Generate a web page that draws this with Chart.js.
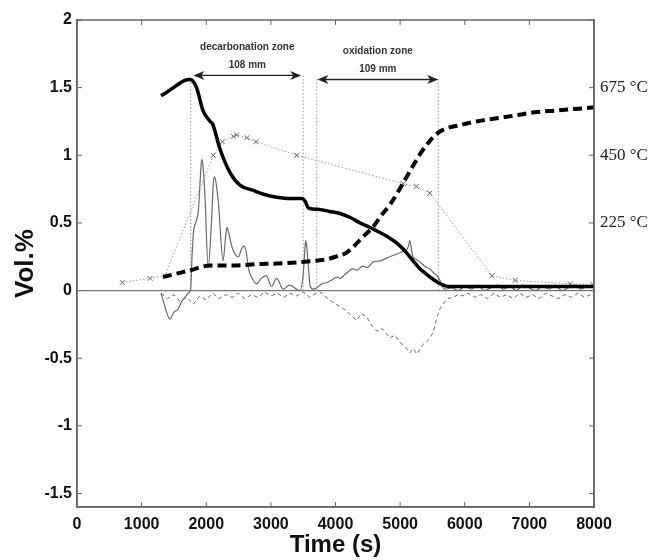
<!DOCTYPE html>
<html>
<head>
<meta charset="utf-8">
<script src="https://cdn.jsdelivr.net/npm/chart.js@4"></script>
<style>
    html, body { margin: 0; padding: 0; background: #fff; }
</style>
</head>
<body>
<canvas id="myChart" width="657" height="560"></canvas>
<script>
// axis ticks
const xTicks = [0, 1000, 2000, 3000, 4000, 5000, 6000, 7000, 8000];
const yTicks = [-1.5, -1, -0.5, 0, 0.5, 1, 1.5, 2];
const tempTicks = [0.5, 1, 1.5];
const tempLabels = ['225 °C', '450 °C', '675 °C'];

// thick solid curve
const timeA = [1300, 1400, 1550, 1650, 1750, 1850, 1950, 2060, 2100, 2210, 2370, 2520, 2730, 2900, 3090, 3300, 3480, 3530, 3580,
    3750, 3910, 4070, 4230, 4380, 4520, 4640, 4800, 4950, 5080, 5200, 5310, 5410, 5520, 5620, 5700, 5770, 6000, 6500, 7000, 7500, 8000];
const volA = [1.44, 1.47, 1.52, 1.55, 1.56, 1.50, 1.33, 1.25, 1.23, 1.05, 0.87, 0.78, 0.74, 0.71, 0.69, 0.68, 0.68, 0.66, 0.61,
    0.60, 0.585, 0.57, 0.54, 0.50, 0.47, 0.44, 0.40, 0.35, 0.29, 0.22, 0.16, 0.12, 0.08, 0.05, 0.035, 0.03, 0.03, 0.03, 0.03, 0.03, 0.03];

// thick dashed curve
const timeB = [1330, 1500, 1750, 2060, 2420, 2800, 3100, 3450, 3700, 3860, 4000, 4170, 4270, 4430, 4580, 4700, 4850, 4980, 5100,
    5210, 5310, 5450, 5570, 5720, 5900, 6080, 6300, 6590, 6850, 7120, 7400, 7630, 7800, 8000];
const volB = [0.10, 0.12, 0.15, 0.185, 0.185, 0.195, 0.20, 0.21, 0.22, 0.23, 0.25, 0.28, 0.32, 0.40, 0.47, 0.55, 0.64, 0.74, 0.84,
    0.93, 1.01, 1.10, 1.16, 1.20, 1.22, 1.24, 1.26, 1.28, 1.30, 1.32, 1.33, 1.34, 1.345, 1.355];

// dotted curve with x markers
const timeC = [700, 1130, 1360, 2110, 2250, 2420, 2470, 2630, 2770, 3400, 5050, 5250, 5460, 6420, 6780, 7630, 7980];
const volC = [0.06, 0.09, 0.11, 1.00, 1.10, 1.14, 1.15, 1.13, 1.10, 1.00, 0.79, 0.77, 0.72, 0.11, 0.075, 0.05, 0.045];

// thin solid grey curve
const timeD = [1300, 1350, 1400, 1440, 1500, 1560, 1620, 1670, 1720, 1760, 1780, 1800, 1850, 1880, 1910, 1930, 1950, 1980, 2030,
    2080, 2110, 2130, 2150, 2190, 2260, 2300, 2320, 2340, 2400, 2460, 2500, 2540, 2580, 2620, 2650, 2700, 2780, 2850, 2930, 3010,
    3090, 3190, 3290, 3400, 3450, 3500, 3530, 3540, 3560, 3580, 3610, 3660, 3710, 3790, 3870, 3950, 4020, 4070, 4150, 4270, 4330,
    4420, 4490, 4580, 4700, 4840, 4950, 5050, 5100, 5130, 5150, 5180, 5200, 5250, 5310, 5380, 5460, 5520, 5570, 5620, 5650, 5700,
    5800, 5900, 6000, 6100, 6200, 6300, 6400, 6500, 6600, 6700, 6800, 6900, 7000, 7100, 7200, 7300, 7400, 7500, 7600, 7700, 7800,
    7900, 8000];
const volD = [-0.02, -0.10, -0.18, -0.21, -0.16, -0.14, -0.08, -0.05, -0.02, 0.02, 0.25, 0.42, 0.52, 0.60, 0.85, 0.97, 0.92, 0.70,
    0.17, 0.50, 0.80, 0.84, 0.80, 0.64, 0.22, 0.40, 0.47, 0.44, 0.32, 0.26, 0.25, 0.30, 0.33, 0.28, 0.17, 0.10, 0.05, 0.09, 0.11,
    0.03, 0.09, 0.01, 0.04, 0.01, 0.00, 0.12, 0.33, 0.37, 0.30, 0.18, 0.03, 0.01, 0.02, 0.05, 0.06, 0.08, 0.10, 0.09, 0.12, 0.16,
    0.15, 0.18, 0.17, 0.21, 0.22, 0.25, 0.27, 0.29, 0.30, 0.33, 0.37, 0.29, 0.25, 0.23, 0.21, 0.18, 0.16, 0.13, 0.11, 0.07, 0.03,
    0.01, 0.02, 0.00, 0.03, 0.01, 0.04, 0.00, 0.02, 0.04, 0.01, 0.03, 0.00, 0.04, 0.02, 0.00, 0.03, 0.01, 0.04, 0.00, 0.02, 0.04,
    0.01, 0.03, 0.02];

// thin dashed grey curve
const timeE = [1300, 1400, 1500, 1600, 1700, 1800, 1900, 2000, 2100, 2200, 2300, 2400, 2500, 2600, 2700, 2800, 2900, 3000, 3100,
    3200, 3300, 3400, 3500, 3600, 3700, 3760, 3830, 3910, 4000, 4080, 4170, 4250, 4330, 4400, 4490, 4560, 4640, 4720, 4840, 4920,
    4990, 5070, 5150, 5200, 5260, 5350, 5430, 5510, 5570, 5620, 5660, 5740, 5820, 5900, 5970, 6050, 6150, 6250, 6350, 6450, 6550,
    6650, 6750, 6850, 6950, 7050, 7150, 7250, 7350, 7450, 7550, 7650, 7750, 7850, 7950, 8000];
const volE = [-0.02, -0.06, -0.03, -0.08, -0.05, -0.10, -0.04, -0.07, -0.02, -0.06, -0.03, -0.05, -0.02, -0.06, -0.03, -0.05, -0.01,
    -0.04, -0.02, -0.05, -0.02, -0.04, -0.01, -0.05, -0.02, -0.01, -0.04, -0.07, -0.10, -0.12, -0.15, -0.19, -0.22, -0.17, -0.20,
    -0.26, -0.30, -0.28, -0.35, -0.33, -0.38, -0.41, -0.46, -0.43, -0.47, -0.40, -0.37, -0.31, -0.20, -0.13, -0.10, -0.06, -0.05,
    -0.03, -0.04, -0.02, -0.05, -0.03, -0.06, -0.02, -0.05, -0.03, -0.06, -0.02, -0.05, -0.03, -0.06, -0.02, -0.04, -0.06, -0.03,
    -0.05, -0.02, -0.05, -0.03, -0.04];

// zone markers
const zoneLineX = [1760, 3500, 3710, 5590];
const zoneLineTop = [1.55, 1.60, 1.57, 1.56];
const zoneNames = ['decarbonation zone', 'oxidation zone'];
const zoneLengths = ['108 mm', '109 mm'];
const zoneStart = [1800, 3720];
const zoneEnd = [3470, 5590];
const zoneArrowY = [1.59, 1.56];


function pts(xs, ys) {
    return xs.map((x, i) => ({ x: x, y: ys[i] }));
}

const zoneDatasets = zoneLineX.map((x, i) => ({
    data: [{ x: x, y: 0 }, { x: x, y: zoneLineTop[i] }],
    borderColor: '#9a9a9a',
    borderWidth: 1,
    borderDash: [1.5, 2],
    pointRadius: 0
}));

function arrowHead(ctx, x, y, dir) {
    ctx.beginPath();
    ctx.moveTo(x, y);
    ctx.lineTo(x - dir * 11, y - 4.5);
    ctx.lineTo(x - dir * 8, y);
    ctx.lineTo(x - dir * 11, y + 4.5);
    ctx.closePath();
    ctx.fill();
}

const frameAndTicks = {
    id: 'frameAndTicks',
    afterDatasetsDraw(chart) {
        const { ctx, chartArea: a, scales: { x, y } } = chart;
        ctx.save();
        ctx.strokeStyle = '#666';
        ctx.lineWidth = 1.5;
        ctx.strokeRect(a.left, a.top, a.right - a.left, a.bottom - a.top);

        // inward tick marks
        ctx.lineWidth = 1;
        ctx.beginPath();
        xTicks.forEach(v => {
            const px = x.getPixelForValue(v);
            ctx.moveTo(px, a.bottom); ctx.lineTo(px, a.bottom - 5);
            ctx.moveTo(px, a.top); ctx.lineTo(px, a.top + 5);
        });
        yTicks.forEach(v => {
            const py = y.getPixelForValue(v);
            ctx.moveTo(a.left, py); ctx.lineTo(a.left + 5, py);
            ctx.moveTo(a.right, py); ctx.lineTo(a.right - 5, py);
        });
        ctx.stroke();

        // zone arrows and labels
        ctx.strokeStyle = '#222';
        ctx.fillStyle = '#222';
        ctx.lineWidth = 1.3;
        zoneNames.forEach((name, i) => {
            const x1 = x.getPixelForValue(zoneStart[i]);
            const x2 = x.getPixelForValue(zoneEnd[i]);
            const py = y.getPixelForValue(zoneArrowY[i]);
            ctx.beginPath();
            ctx.moveTo(x1 + 4, py);
            ctx.lineTo(x2 - 4, py);
            ctx.stroke();
            arrowHead(ctx, x1, py, -1);
            arrowHead(ctx, x2, py, 1);
            ctx.font = 'bold 10px Arial, "Liberation Sans"';
            ctx.textAlign = 'center';
            ctx.textBaseline = 'middle';
            ctx.fillStyle = '#333';
            ctx.fillText(name, (x1 + x2) / 2, py - 28);
            ctx.fillText(zoneLengths[i], (x1 + x2) / 2, py - 10);
            ctx.fillStyle = '#222';
        });
        ctx.restore();
    }
};

const tickFont = { family: 'Arial, "Liberation Sans"', size: 16, weight: 'bold' };

const myChart = new Chart(document.getElementById('myChart').getContext('2d'), {
    type: 'line',
    data: {
        datasets: [
            {
                data: pts(timeA, volA),
                borderColor: '#000',
                borderWidth: 3.5,
                pointRadius: 0,
                cubicInterpolationMode: 'monotone'
            },
            {
                data: pts(timeB, volB),
                borderColor: '#000',
                borderWidth: 4,
                borderDash: [9, 5],
                pointRadius: 0,
                cubicInterpolationMode: 'monotone'
            },
            {
                data: pts(timeC, volC),
                borderColor: '#999',
                borderWidth: 1,
                borderDash: [1.5, 2],
                pointStyle: 'crossRot',
                pointRadius: 3.5,
                pointBorderColor: '#666',
                pointBorderWidth: 1
            },
            {
                data: pts(timeD, volD),
                borderColor: '#6a6a6a',
                borderWidth: 1.2,
                pointRadius: 0,
                cubicInterpolationMode: 'monotone'
            },
            {
                data: pts(timeE, volE),
                borderColor: '#6a6a6a',
                borderWidth: 1,
                borderDash: [4, 3],
                pointRadius: 0
            },
            ...zoneDatasets
        ]
    },
    options: {
        responsive: false,
        animation: false,
        layout: { padding: { top: 20, left: 0, right: 0, bottom: 0 } },
        plugins: {
            legend: { display: false },
            tooltip: { enabled: false }
        },
        scales: {
            x: {
                type: 'linear',
                min: 0,
                max: 8000,
                afterBuildTicks: s => { s.ticks = xTicks.map(v => ({ value: v })); },
                afterFit: s => { s.height = 53; },
                grid: { display: false },
                border: { display: true, color: '#666', width: 1.5 },
                ticks: { font: tickFont, color: '#111', padding: 0, maxRotation: 0, callback: v => String(v) },
                title: {
                    display: true,
                    text: 'Time (s)',
                    font: { family: 'Arial, "Liberation Sans"', size: 24, weight: 'bold' },
                    color: '#111',
                    padding: { top: 0, bottom: 0 }
                }
            },
            y: {
                min: -1.6,
                max: 2,
                afterBuildTicks: s => { s.ticks = yTicks.map(v => ({ value: v })); },
                afterFit: s => { s.width = 77; },
                grid: {
                    drawTicks: false,
                    color: c => (c.tick && c.tick.value === 0 ? '#777' : 'rgba(0,0,0,0)'),
                    lineWidth: 1.2
                },
                border: { display: true, color: '#666', width: 1.5 },
                ticks: { font: tickFont, color: '#111', padding: 5, callback: v => String(v) },
                title: {
                    display: true,
                    text: 'Vol.%',
                    font: { family: 'Arial, "Liberation Sans"', size: 26, weight: 'bold' },
                    color: '#111',
                    padding: { top: 10, bottom: 0 }
                }
            },
            y2: {
                position: 'right',
                min: -1.6,
                max: 2,
                afterBuildTicks: s => { s.ticks = tempTicks.map(v => ({ value: v })); },
                afterFit: s => { s.width = 63; },
                grid: { display: false, drawTicks: false },
                border: { display: true, color: '#666', width: 1.5 },
                ticks: {
                    font: { family: '"Times New Roman", "Liberation Serif", serif', size: 17 },
                    color: '#222',
                    padding: 6,
                    callback: (v, i) => tempLabels[i]
                }
            }
        }
    },
    plugins: [frameAndTicks]
});
</script>
</body>
</html>
